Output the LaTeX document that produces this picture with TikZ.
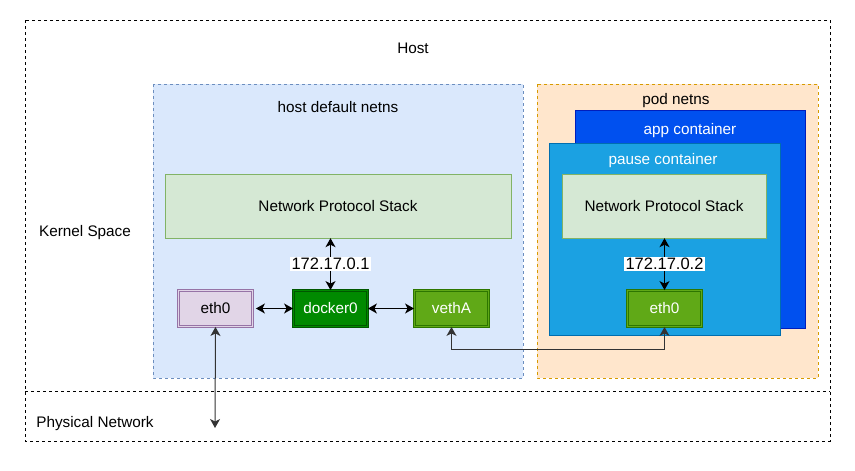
\documentclass[tikz,border=0pt]{standalone}
\usepackage{fontspec}
\setmainfont{Liberation Sans}
\usetikzlibrary{arrows.meta}

\definecolor{hostns}{HTML}{DAE8FC}
\definecolor{hostnsline}{HTML}{6C8EBF}
\definecolor{podns}{HTML}{FFE6CC}
\definecolor{podnsline}{HTML}{D79B00}
\definecolor{stackfill}{HTML}{D5E8D4}
\definecolor{stackline}{HTML}{82B366}
\definecolor{appfill}{HTML}{0050EF}
\definecolor{appline}{HTML}{001DBC}
\definecolor{pausefill}{HTML}{1BA1E2}
\definecolor{pauseline}{HTML}{006EAF}
\definecolor{ethfill}{HTML}{E1D5E7}
\definecolor{ethline}{HTML}{9673A6}
\definecolor{dockfill}{HTML}{008A00}
\definecolor{dockline}{HTML}{005700}
\definecolor{vethfill}{HTML}{60A917}
\definecolor{vethline}{HTML}{2D7600}

\begin{document}
\begin{tikzpicture}[x=1pt, y=-1pt, every node/.style={font=\fontsize{15.3}{18}\selectfont},
	stack/.style={draw=stackline, fill=stackfill, minimum height=64pt},
	iface/.style={draw=#1line, line width=0.9pt, double=#1fill, double distance=1.4pt, fill=#1fill, minimum width=74pt, minimum height=36pt, inner sep=0pt},
	link/.style={{Stealth[length=9pt,width=10pt,inset=2.5pt]}-{Stealth[length=9pt,width=10pt,inset=2.5pt]}, line width=1pt},
	ip/.style={fill=white, inner xsep=2pt, inner ysep=1pt, font=\fontsize{16.5}{19}\selectfont}]
	\useasboundingbox (0,0) rectangle (855,471);
	% host and physical network
	\draw[dash pattern=on 3pt off 3pt] (25,20) rectangle (830,441);
	\draw[dash pattern=on 3pt off 3pt] (25,391) -- (830,391);
	\node (host) at (413,48) {Host};
	\node (kernel) at (85,233) {Kernel Space};
	\node (physnet) at (95,424) {Physical Network};
	% namespaces
	\draw[hostnsline, fill=hostns, dash pattern=on 3pt off 3pt] (153,84) rectangle (523,378);
	\node (hostnslabel) at (338,107) {host default netns};
	\draw[podnsline, fill=podns, dash pattern=on 3pt off 3pt] (537,84) rectangle (818,378);
	\node (podnslabel) at (676,101) {pod netns};
	\draw[appline, fill=appfill] (575,110) rectangle (805,328);
	\node[text=white] (applabel) at (690,131) {app container};
	\draw[pauseline, fill=pausefill] (549,143) rectangle (780,335);
	\node[text=white] (pauselabel) at (663,161) {pause container};
	% stacks and interfaces
	\node[stack, minimum width=346pt] (hoststack) at (338,206) {Network Protocol Stack};
	\node[stack, minimum width=204pt] (podstack) at (664,206) {Network Protocol Stack};
	\node[iface=eth] (hosteth) at (215.5,308.5) {eth0};
	\node[iface=dock, text=white] (docker) at (330.5,308.5) {docker0};
	\node[iface=veth, text=white] (veth) at (451.5,308.5) {vethA};
	\node[iface=veth, text=white] (podeth) at (664.5,308.5) {eth0};
	\coordinate (wire) at (215,428);
	% links
	\draw[link] (docker.north) -- (docker.north |- hoststack.south) node[midway, ip] {172.17.0.1};
	\draw[link] (podeth.north) -- (podeth.north |- podstack.south) node[midway, ip] {172.17.0.2};
	\draw[link, shorten <=3pt] (hosteth.east) -- (docker.west);
	\draw[link] (docker.east) -- (veth.west);
	\draw[link, black!80] (hosteth.south) -- (wire);
	\draw[link, black!80] (veth.south) -- ++(0,23) -| (podeth.south);
\end{tikzpicture}
\end{document}
